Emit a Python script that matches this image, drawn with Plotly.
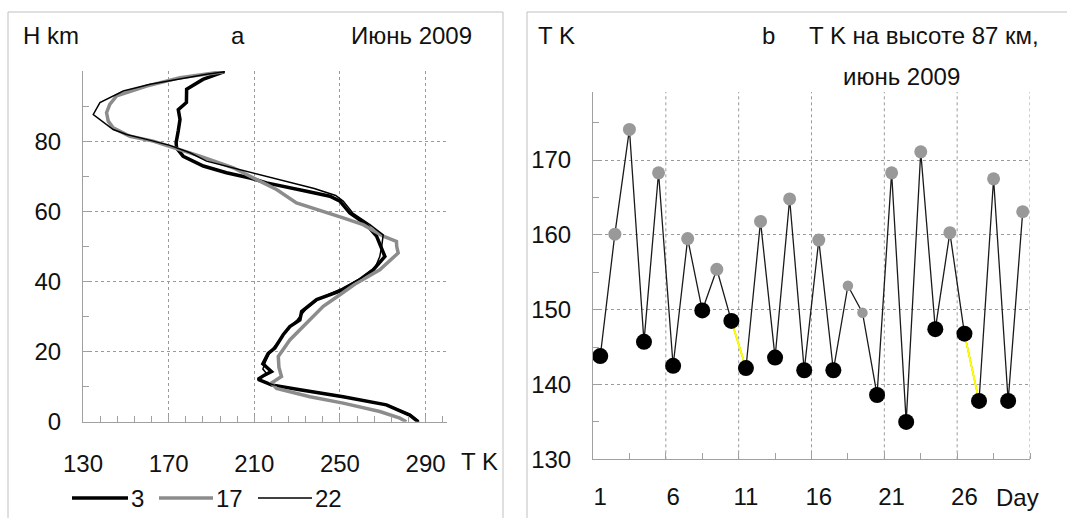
import plotly.graph_objects as go

W, H = 1067, 518

# ---------------- Panel a: temperature profiles (T K vs H km) ----------------
h3 = [0, 1.9, 4.8, 7.1, 9.1, 10.5, 12.1, 13.2, 14.3, 16.5, 19.5, 21, 24.8, 27.1, 29, 31.4,
      34.8, 37.6, 40.5, 43.3, 47.1, 52.9, 56.2, 59.5, 62.9, 64.3, 65.7, 67.1, 68.1, 69.5,
      71, 72.9, 75.7, 78, 79.6, 83, 86.2, 89, 91, 94.8, 97.6, 99.8]
t3 = [286.5, 282.6, 271.7, 251.5, 231.3, 218, 211.8, 214.5, 218, 214, 216.5, 219.6, 223.5,
      226.6, 231.3, 232.1, 239.1, 251.5, 259.3, 265.5, 271, 267.1, 262.4, 254.6, 250, 245.3,
      234.4, 223.5, 215.7, 208, 197, 186.2, 176.8, 173.7, 173.5, 174.5, 175.3, 174.5, 178.3,
      178.4, 186, 196]

h17 = [0, 1, 2.9, 5.3, 7.1, 9.5, 11, 12.9, 15.5, 18.6, 23.3, 28.1, 32.9, 36.2, 39.5, 43.3,
       48.1, 50, 51.4, 52.9, 56.2, 58.1, 60.5, 62.4, 66.2, 69.5, 72.4, 75.7, 78.1, 80, 81.4,
       83.8, 85.7, 88.1, 90.5, 92.9, 95.7, 98.1, 99.8]
t17 = [281, 278, 268.6, 251.5, 236, 220.4, 218, 222.7, 221.5, 221.2, 226.6, 234.4, 242.2,
       250, 257.7, 268.6, 277.2, 276.5, 276.4, 270.2, 260.8, 251.5, 239.1, 229.7, 220.4,
       209.5, 200.2, 184.6, 172.1, 162.8, 151.9, 144.1, 141.8, 141, 142.5, 145.7, 159.7,
       175.3, 195.5]

h22 = [0, 2, 4.8, 7.1, 9.1, 10.5, 12.1, 13.5, 15, 17.5, 20, 23, 26, 29, 32, 35, 38, 41, 44,
       47.1, 50, 53.3, 56.2, 59.5, 62.9, 64.5, 66.5, 68.5, 70.5, 72.5, 74.3, 76.7, 78.8,
       80.5, 81.9, 83.3, 85.3, 87.6, 91, 94.3, 96.2, 97.7, 99.1, 99.8]
t22 = [287, 283, 272, 252, 232, 219, 211.5, 216, 214, 215.5, 217.5, 221.5, 225, 230, 234,
       240, 251, 260, 266.5, 268.6, 269.5, 270.2, 264, 256, 251.5, 248, 238, 225, 212, 200,
       187.7, 180, 170.6, 159.7, 150.4, 144.1, 139.5, 134.8, 137.9, 148.8, 161.3, 175.3,
       187.7, 196.3]

profile_names = ["3", "17", "22"]
profile_colors = ["#000000", "#8c8c8c", "#000000"]
profile_widths = [3.5, 3.5, 1.5]

t_ticks = [130, 170, 210, 250, 290]
h_ticks = [0, 20, 40, 60, 80]
h_minor = [10, 30, 50, 70, 90]

# ---------------- Panel b: T K at 87 km, June 2009 ----------------
days = list(range(1, 31))
temp87 = [143.8, 160.1, 174.1, 145.7, 168.3, 142.5, 159.5, 149.9, 155.4, 148.5,
          142.2, 161.8, 143.6, 164.8, 141.9, 159.3, 141.9, 153.2, 149.6, 138.6,
          168.3, 135.0, 171.1, 147.4, 160.3, 146.8, 137.8, 167.5, 137.8, 163.1]
point_class = ["lo", "hi", "hi", "lo", "hi", "lo", "hi", "lo", "hi", "lo",
               "lo", "hi", "lo", "hi", "lo", "hi", "lo", "mid", "mid", "lo",
               "hi", "lo", "hi", "lo", "hi", "lo", "lo", "hi", "lo", "hi"]
yellow_pairs = [(10, 11), (26, 27)]
day_ticks = [1, 6, 11, 16, 21, 26]
day_grid = [5.5, 10.5, 15.5, 20.5, 25.5, 30.5]
day_minor = [3, 5.5, 8, 10.5, 13, 15.5, 18, 20.5, 23, 25.5, 28, 30.5]
tk_ticks = [130, 140, 150, 160, 170]
tk_minor = [135, 145, 155, 165, 175]


def px(x):
    return x / W


def py(y):
    return 1 - y / H


FONT = "Liberation Sans, Arial, sans-serif"
FS = 24
GRID = "#9a9a9a"
AXIS = "#a0a0a0"

fig = go.Figure()

profiles = [(t3, h3), (t17, h17), (t22, h22)]
for (t, h), name, col, wd in zip(profiles, profile_names, profile_colors, profile_widths):
    fig.add_trace(go.Scatter(x=t, y=h, mode="lines", name=name, showlegend=False,
                             line=dict(color=col, width=wd), xaxis="x", yaxis="y"))

fig.add_trace(go.Scatter(x=days, y=temp87, mode="lines", showlegend=False,
                         line=dict(color="#1a1a1a", width=1.3), xaxis="x2", yaxis="y2"))
for a, b in yellow_pairs:
    fig.add_trace(go.Scatter(x=[a, b], y=[temp87[a - 1], temp87[b - 1]], mode="lines",
                             showlegend=False, line=dict(color="#ffff00", width=2),
                             xaxis="x2", yaxis="y2"))

marker_style = {"hi": ("#999999", 13), "mid": ("#999999", 10.5), "lo": ("#000000", 16)}
for cls, (col, size) in marker_style.items():
    xs = [d for d, c in zip(days, point_class) if c == cls]
    ys = [v for v, c in zip(temp87, point_class) if c == cls]
    fig.add_trace(go.Scatter(x=xs, y=ys, mode="markers", showlegend=False,
                             marker=dict(color=col, size=size, line=dict(width=0)),
                             xaxis="x2", yaxis="y2"))

tickfont = dict(family=FONT, size=FS, color="#111111")
common = dict(showline=True, linecolor=AXIS, linewidth=1, zeroline=False, automargin=False,
              tickfont=tickfont, tickcolor=AXIS, ticklen=6, ticks="inside")

fig.update_layout(
    width=W, height=H, autosize=False, margin=dict(l=0, r=0, t=0, b=0, pad=0, autoexpand=False),
    paper_bgcolor="white", plot_bgcolor="white",
    font=dict(family=FONT, size=FS, color="#111111"),
    xaxis=dict(domain=[px(83), px(447)], range=[130, 300], anchor="y",
               tickmode="array", tickvals=t_ticks,
               showgrid=True, gridcolor=GRID, griddash="dot", gridwidth=1,
               minor=dict(tick0=130, dtick=8, ticks="inside", ticklen=6,
                          tickcolor=AXIS, showgrid=False),
               ticklabelstandoff=20, **common),
    yaxis=dict(domain=[py(421.7), py(71)], range=[0, 100], anchor="x",
               tickmode="array", tickvals=h_ticks,
               showgrid=True, gridcolor=GRID, griddash="dot", gridwidth=1,
               minor=dict(tickmode="array", tickvals=h_minor, ticks="inside", ticklen=6,
                          tickcolor=AXIS, showgrid=False),
               ticklabelstandoff=16, **common),
    xaxis2=dict(domain=[px(593), px(1030)], range=[0.5, 30.5], anchor="y2",
                tickmode="array", tickvals=day_ticks, ticktext=[str(d) for d in day_ticks],
                showgrid=False,
                minor=dict(tickmode="array", tickvals=day_minor, ticks="inside", ticklen=6,
                           tickcolor=AXIS, showgrid=False),
                showline=True, linecolor=AXIS, linewidth=1, zeroline=False, automargin=False,
                tickfont=tickfont, ticks="", ticklabelstandoff=16),
    yaxis2=dict(domain=[py(459.3), py(92)], range=[130, 179.1], anchor="x2",
                tickmode="array", tickvals=tk_ticks,
                showgrid=True, gridcolor=GRID, griddash="dot", gridwidth=1,
                minor=dict(tickmode="array", tickvals=tk_minor, ticks="inside", ticklen=6,
                           tickcolor=AXIS, showgrid=False),
                ticklabelstandoff=16, **common),
)

shapes = []
# panel frames
shapes.append(dict(type="rect", xref="paper", yref="paper", x0=px(8), x1=px(503),
                   y0=py(530), y1=py(12), line=dict(color="#c0c0c0", width=1)))
shapes.append(dict(type="rect", xref="paper", yref="paper", x0=px(527), x1=px(1080),
                   y0=py(530), y1=py(12), line=dict(color="#c0c0c0", width=1)))
# vertical day gridlines (category boundaries)
for g in day_grid:
    shapes.append(dict(type="line", xref="x2", yref="y2 domain", x0=g, x1=g, y0=0, y1=1,
                       line=dict(color=GRID, width=1, dash="dot"), layer="below"))

# custom legend for panel a
legend_pos = [(72, 128), (159, 213), (258, 312)]
annotations = []
for (x0, x1), name, col, wd in zip(legend_pos, profile_names, profile_colors, profile_widths):
    shapes.append(dict(type="line", xref="paper", yref="paper", x0=px(x0), x1=px(x1),
                       y0=py(498), y1=py(498), line=dict(color=col, width=wd)))
    annotations.append(dict(xref="paper", yref="paper", x=px(x1 + 1), y=py(498), text=name,
                            showarrow=False, xanchor="left", yanchor="middle",
                            font=dict(family=FONT, size=FS, color="#111111")))


def label(text, x, y, anchor="left"):
    annotations.append(dict(xref="paper", yref="paper", x=px(x), y=py(y), text=text,
                            showarrow=False, xanchor=anchor, yanchor="middle",
                            font=dict(family=FONT, size=FS, color="#111111")))


label("H km", 21, 36)
label("a", 238, 36, "center")
label("Июнь 2009", 474, 36, "right")
label("T K", 459, 461)
label("T K", 536, 36)
label("b", 768, 36, "center")
label("T K на высоте 87 км,", 807, 36)
label("июнь 2009", 901, 76, "center")
label("Day", 1017, 497, "center")

fig.update_layout(shapes=shapes, annotations=annotations)

fig.write_html(
    "out.html",
    config={"displayModeBar": False},
    post_script="document.body.style.margin='0';document.body.style.padding='0';"
                "document.body.style.overflow='hidden';"
                "document.documentElement.style.overflow='hidden';",
)
